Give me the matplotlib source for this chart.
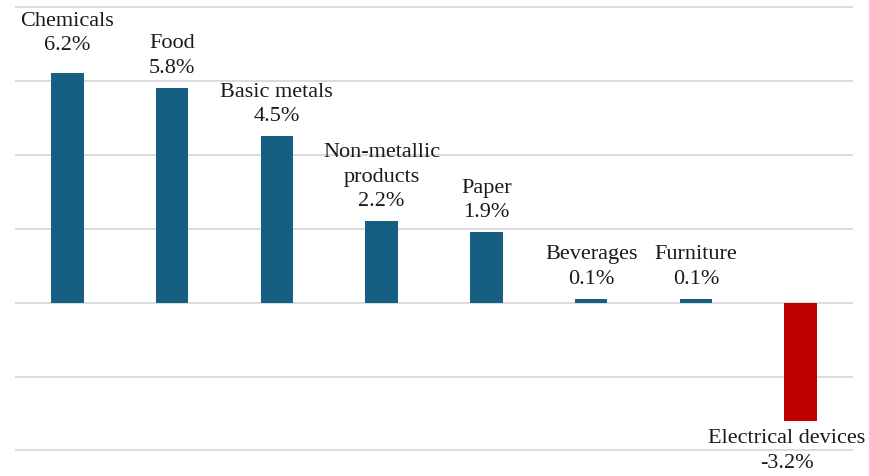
import matplotlib.pyplot as plt

categories = ["Chemicals", "Food", "Basic metals", "Non-metallic\nproducts", "Paper",
              "Beverages", "Furniture", "Electrical devices"]
values = [6.2, 5.8, 4.5, 2.2, 1.9, 0.1, 0.1, -3.2]

plt.rcParams['font.family'] = ['Liberation Serif', 'DejaVu Serif']

fig = plt.figure(figsize=(8.69, 4.76), dpi=100)
ax = fig.add_axes([15 / 869, 0, 838 / 869, 1])

x = list(range(len(categories)))
colors = ['#C00000' if v < 0 else '#175F82' for v in values]
ax.bar(x, values, width=0.31, color=colors, zorder=3)

for i, (c, v) in enumerate(zip(categories, values)):
    label = c + "\n" + f"{v:.1f}%"
    if v >= 0:
        off = 18 if i == 0 else 10
        ax.annotate(label, (i, v), xytext=(0, off * 0.72), textcoords='offset points',
                    ha='center', va='bottom', fontsize=16, linespacing=1.4, color='#1a1a1a')
    else:
        # pulled left a bit so it stays inside the picture
        ax.annotate(label, (i, v), xytext=(-10, -6), textcoords='offset points',
                    ha='center', va='top', fontsize=16, linespacing=1.4, color='#1a1a1a')

ax.set_xlim(-0.5, len(categories) - 0.5)
ax.set_ylim(-4.69, 8.18)
ax.set_yticks([-4, -2, 0, 2, 4, 6, 8])
ax.yaxis.grid(True, color='#D9D9D9', linewidth=1.3, zorder=0)
ax.tick_params(left=False, bottom=False, labelleft=False, labelbottom=False)
for s in ax.spines.values():
    s.set_visible(False)
ax.set_facecolor('none')

plt.savefig("out.png", dpi=100)
